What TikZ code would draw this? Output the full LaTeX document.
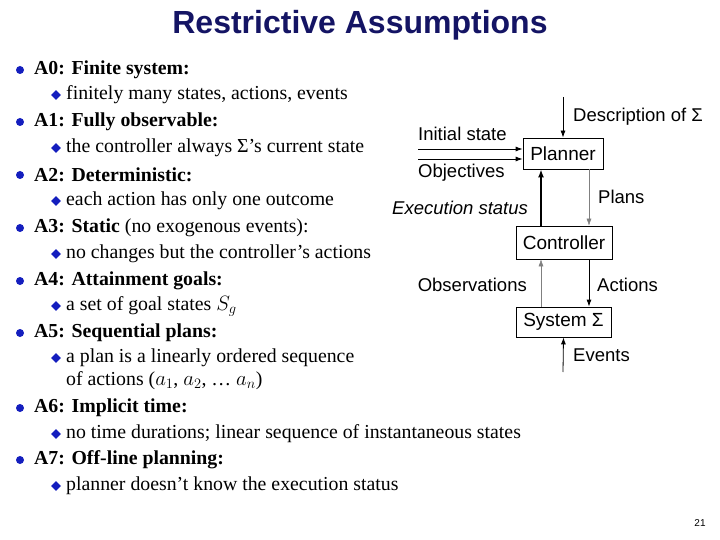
\documentclass[tikz,border=0pt]{standalone}
\usepackage{fontspec}
\setmainfont{Liberation Serif}
\newfontfamily\dsans{Liberation Sans}
\usetikzlibrary{arrows.meta,shapes.geometric}
\definecolor{navy}{RGB}{20,20,100}
\definecolor{bblue}{RGB}{20,30,190}
\begin{document}
\begin{tikzpicture}[x=1pt,y=-1pt,
  main/.style={anchor=west,font=\fontsize{19.8}{22}\selectfont,inner sep=0},
  sub/.style={anchor=west,font=\fontsize{19.8}{22}\selectfont,inner sep=0},
  dot/.style={circle,fill=bblue,inner sep=0,minimum size=8pt},
  dia/.style={diamond,fill=bblue,inner sep=0,minimum size=10pt},
  box/.style={draw,thick,font=\dsans\fontsize{19}{22}\selectfont,inner sep=0},
  lab/.style={font=\dsans\fontsize{18.5}{21}\selectfont,inner sep=0},
  arr/.style={-{Latex[length=7pt,width=5pt]},thick}]
\useasboundingbox (0,0) rectangle (720,540);
\node (title) at (360,25) {\dsans\bfseries\fontsize{32}{36}\selectfont\color{navy}Restrictive Assumptions};
\newcommand{\bul}[3]{\node[dot] (d#1) at (20,#2) {}; \node[main] (t#1) at (34,#2) {#3};}
\newcommand{\sbul}[3]{\node[dia] (s#1) at (56,#2) {}; \node[sub] (u#1) at (66,#2) {#3};}
\bul{0}{70}{\textbf{A0: Finite system:}}
\sbul{0}{95}{finitely many states, actions, events}
\bul{1}{122}{\textbf{A1: Fully observable:}}
\sbul{1}{148}{the controller always Σ’s current state}
\bul{2}{175}{\textbf{A2: Deterministic:}}
\sbul{2}{201}{each action has only one outcome}
\bul{3}{228}{\textbf{A3: Static} (no exogenous events):}
\sbul{3}{254}{no changes but the controller’s actions}
\bul{4}{281}{\textbf{A4: Attainment goals:}}
\sbul{4}{306}{a set of goal states $S_g$}
\bul{5}{333}{\textbf{A5: Sequential plans:}}
\sbul{5}{358}{a plan is a linearly ordered sequence}
\node[sub] (u5b) at (66,381) {of actions ($a_1$, $a_2$, … $a_n$)};
\bul{6}{408}{\textbf{A6: Implicit time:}}
\sbul{6}{434}{no time durations; linear sequence of instantaneous states}
\bul{7}{460}{\textbf{A7: Off-line planning:}}
\sbul{7}{486}{planner doesn’t know the execution status}
\node (pg) at (700,523) {\dsans\fontsize{10}{11}\selectfont 21};
% diagram
\node[box,minimum width=80pt,minimum height=31pt] (P) at (563,153.5) {Planner};
\node[box,minimum width=96pt,minimum height=33pt] (C) at (564,242.5) {Controller};
\node[box,minimum width=95pt,minimum height=30pt] (S) at (563.5,322) {System Σ};
\coordinate (dtop) at (563,97);
\coordinate (i1) at (418,149);
\coordinate (i2) at (418,159);
\coordinate (ebot) at (563,372);
\draw[arr] (dtop) -- (P.north);
\draw[arr] (i1) -- (i1 -| P.west);
\draw[arr] (i2) -- (i2 -| P.west);
\draw[-{Latex[length=8pt,width=6pt]},line width=2.4pt] (C.north -| 541,0) -- (P.south -| 541,0);
\draw[arr,gray,thin] (P.south -| 589,0) -- (C.north -| 589,0);
\draw[arr,gray,thin] (S.north -| 541,0) -- (C.south -| 541,0);
\draw[arr] (C.south -| 589,0) -- (S.north -| 589,0);
\draw[arr] (ebot) -- (S.south);
\node[lab,anchor=west] (ld) at (573,117) {Description of Σ};
\node[lab,anchor=west] (li) at (418,134) {Initial state};
\node[lab,anchor=west] (lo) at (418,173) {Objectives};
\node[lab,anchor=west] (le) at (392,208) {\itshape Execution status};
\node[lab,anchor=west] (lp) at (598,197) {Plans};
\node[lab,anchor=east] (lob) at (527,285) {Observations};
\node[lab,anchor=west] (la) at (597,285) {Actions};
\node[lab,anchor=west] (lev) at (573,355) {Events};
\end{tikzpicture}
\end{document}
